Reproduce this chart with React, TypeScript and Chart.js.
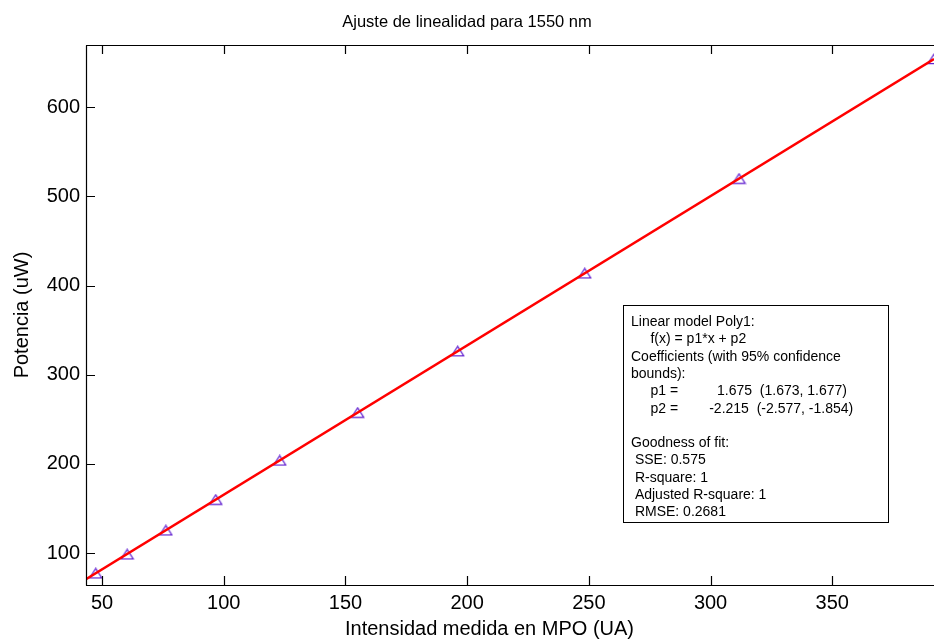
import React, { useEffect, useRef } from "react";
import { Chart, registerables } from "chart.js";

Chart.register(...registerables);

const TITLE = "Ajuste de linealidad para 1550 nm";
const X_LABEL = "Intensidad medida en MPO (UA)";
const Y_LABEL = "Potencia (uW)";

const X_TICKS = [50, 100, 150, 200, 250, 300, 350];
const Y_TICKS = [100, 200, 300, 400, 500, 600];
const X_MIN = 43.4;
const X_MAX = 391.8;
const Y_MIN = 64.1;
const Y_MAX = 669.8;

// measured points (triangles)
const DATA_X = [47.4, 60.3, 76.2, 96.7, 123.0, 155.0, 196.1, 248.3, 311.7, 391.8];
const DATA_Y = [77.2, 98.5, 125.4, 159.8, 203.8, 257.4, 326.3, 413.7, 519.9, 654.1];

// fitted line end points
const FIT_X = [43.4, 391.8];
const FIT_Y = [70.5, 654.1];

const FIT_TEXT = [
  "Linear model Poly1:",
  "     f(x) = p1*x + p2",
  "Coefficients (with 95% confidence",
  "bounds):",
  "     p1 =          1.675  (1.673, 1.677)",
  "     p2 =        -2.215  (-2.577, -1.854)",
  "",
  "Goodness of fit:",
  " SSE: 0.575",
  " R-square: 1",
  " Adjusted R-square: 1",
  " RMSE: 0.2681",
];

const FONT = '"Liberation Sans", Arial, Helvetica, sans-serif';
const RED = "#ff0000";
const MARKER = "#6424d0";

function makeTriangle(): HTMLCanvasElement {
  const c = document.createElement("canvas");
  c.width = 15;
  c.height = 12;
  const g = c.getContext("2d")!;
  g.strokeStyle = MARKER;
  g.lineWidth = 1.2;
  g.beginPath();
  g.moveTo(7.5, 1.2);
  g.lineTo(13.6, 10.6);
  g.lineTo(1.4, 10.6);
  g.closePath();
  g.stroke();
  return c;
}

const decorPlugin = {
  id: "matlabDecor",
  afterDraw(chart: any) {
    const ctx = chart.ctx as CanvasRenderingContext2D;
    const { left, right, top, bottom } = chart.chartArea;
    const xs = chart.scales.x;
    const ys = chart.scales.y;
    ctx.save();
    ctx.strokeStyle = "#000";
    ctx.lineWidth = 1.2;
    ctx.beginPath();
    ctx.moveTo(left + 0.5, top + 0.5);
    ctx.lineTo(left + 0.5, bottom + 0.5);
    ctx.moveTo(left, top + 0.5);
    ctx.lineTo(right, top + 0.5);
    ctx.moveTo(left, bottom + 0.5);
    ctx.lineTo(right, bottom + 0.5);
    const tl = 9;
    X_TICKS.forEach((v) => {
      const px = Math.round(xs.getPixelForValue(v)) + 0.5;
      ctx.moveTo(px, bottom);
      ctx.lineTo(px, bottom - tl);
      ctx.moveTo(px, top);
      ctx.lineTo(px, top + tl);
    });
    Y_TICKS.forEach((v) => {
      const py = Math.round(ys.getPixelForValue(v)) + 0.5;
      ctx.moveTo(left, py);
      ctx.lineTo(left + tl, py);
    });
    ctx.stroke();

    // title
    ctx.fillStyle = "#000";
    ctx.textBaseline = "alphabetic";
    ctx.textAlign = "center";
    ctx.font = `16.5px ${FONT}`;
    ctx.fillText(TITLE, 467, 27);
    // x label
    ctx.font = `20px ${FONT}`;
    ctx.fillText(X_LABEL, 489.5, 635);

    // fit results box
    ctx.fillStyle = "#fff";
    ctx.fillRect(623.5, 305.5, 265, 217);
    ctx.strokeStyle = "#000";
    ctx.lineWidth = 1;
    ctx.strokeRect(623.5, 305.5, 265, 217);
    ctx.fillStyle = "#000";
    ctx.textAlign = "left";
    ctx.font = `14px ${FONT}`;
    FIT_TEXT.forEach((line, i) => {
      if (line) ctx.fillText(line, 631, 326 + 17.3 * i);
    });
    ctx.restore();
  },
};

export default function App() {
  const ref = useRef<HTMLCanvasElement | null>(null);
  useEffect(() => {
    if (!ref.current) return;
    const tri = makeTriangle();
    const chart = new Chart(ref.current, {
      type: "scatter",
      data: {
        datasets: [
          {
            type: "line",
            label: "fit",
            data: FIT_X.map((x, i) => ({ x, y: FIT_Y[i] })),
            borderColor: RED,
            borderWidth: 2.5,
            pointRadius: 0,
            fill: false,
            order: 0,
          } as any,
          {
            label: "data",
            data: DATA_X.map((x, i) => ({ x, y: DATA_Y[i] })),
            pointStyle: tri as any,
            pointRadius: 7,
            borderColor: MARKER,
            backgroundColor: "rgba(0,0,0,0)",
            order: 1,
          },
        ],
      },
      options: {
        animation: false,
        responsive: false,
        layout: { autoPadding: false, padding: { top: 45, left: 0, right: 0, bottom: 0 } },
        plugins: {
          legend: { display: false },
          title: { display: false },
          tooltip: { enabled: false },
        },
        scales: {
          x: {
            type: "linear",
            min: X_MIN,
            max: X_MAX,
            afterBuildTicks: (s: any) => {
              s.ticks = X_TICKS.map((v) => ({ value: v }));
            },
            afterFit: (s: any) => {
              s.height = 55;
              s.paddingLeft = 0;
              s.paddingRight = 0;
            },
            ticks: {
              autoSkip: false,
              maxRotation: 0,
              padding: 6,
              color: "#000",
              font: { size: 20, family: FONT },
            },
            grid: { display: false, drawTicks: false },
            border: { display: false },
          },
          y: {
            type: "linear",
            min: Y_MIN,
            max: Y_MAX,
            afterBuildTicks: (s: any) => {
              s.ticks = Y_TICKS.map((v) => ({ value: v }));
            },
            afterFit: (s: any) => {
              s.width = 86;
              s.paddingTop = 0;
              s.paddingBottom = 0;
            },
            ticks: {
              autoSkip: false,
              padding: 6,
              color: "#000",
              font: { size: 20, family: FONT },
            },
            grid: { display: false, drawTicks: false },
            border: { display: false },
            title: {
              display: true,
              text: Y_LABEL,
              color: "#000",
              font: { size: 20, family: FONT },
              padding: { top: 10, bottom: 0 },
            },
          },
        },
      },
      plugins: [decorPlugin],
    });
    return () => chart.destroy();
  }, []);
  return (
    <div style={{ position: "absolute", left: 0, top: 0, width: 934, height: 640, background: "#fff" }}>
      <canvas ref={ref} width={934} height={640} style={{ display: "block" }} />
    </div>
  );
}
